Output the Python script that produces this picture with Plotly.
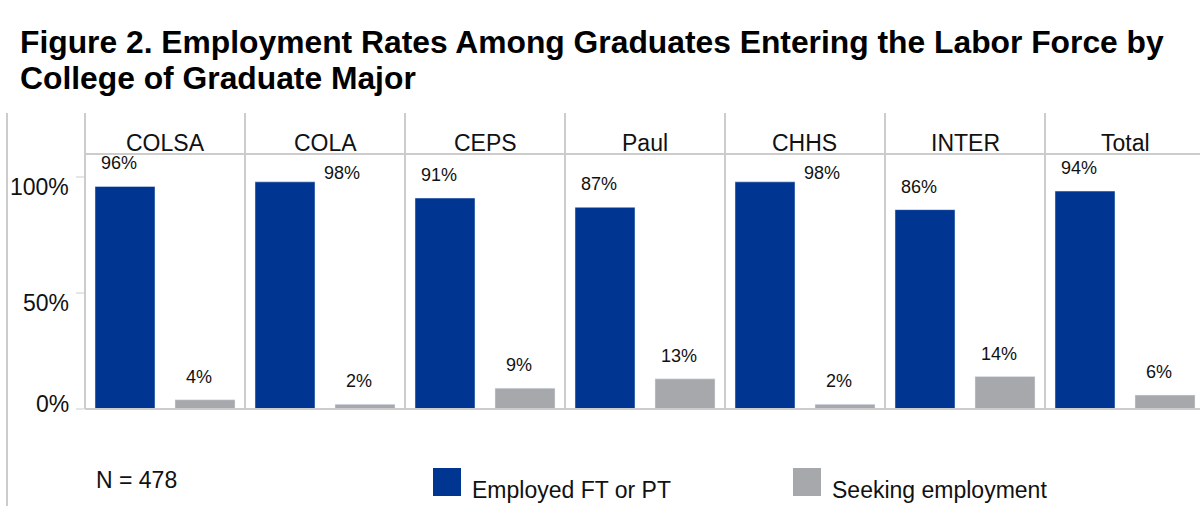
import plotly.graph_objects as go

FONT = "Arial, 'Liberation Sans', sans-serif"

title_lines = [
    "Figure 2. Employment Rates Among Graduates Entering the Labor Force by",
    "College of Graduate Major",
]
colleges = ["COLSA", "COLA", "CEPS", "Paul", "CHHS", "INTER", "Total"]
employed = [96, 98, 91, 87, 98, 86, 94]
seeking = [4, 2, 9, 13, 2, 14, 6]
series_names = ["Employed FT or PT", "Seeking employment"]
series_colors = ["#003591", "#A6A8AB"]
y_ticks = [0, 50, 100]
y_tick_text = ["0%", "50%", "100%"]
n_note = "N = 478"

W, H = 1200, 506
LINE = "#cccccc"
TEXT = "#111111"


def px_x(p):
    return p / W


def px_y(p):
    return 1 - p / H


panel_left, panel_w = 85, 160
plot_top, plot_bottom = 154, 409

fig = go.Figure()
annotations = []
shapes = []

for i, college in enumerate(colleges):
    xa = "x" if i == 0 else f"x{i + 1}"
    ya = "y" if i == 0 else f"y{i + 1}"
    left = panel_left + panel_w * i
    right = min(left + panel_w, W)
    values = [employed[i], seeking[i]]
    for name, color, val in zip(series_names, series_colors, values):
        fig.add_trace(
            go.Bar(
                x=[name], y=[val], marker_color=color, name=name,
                showlegend=False, xaxis=xa, yaxis=ya, width=0.75,
                hoverinfo="skip",
            )
        )
        # value label: 98% sits to the right of the bar, others above it
        if val >= 98:
            xs, ys = 57, 9
        else:
            xs, ys = -6, 23
        annotations.append(dict(
            x=name, y=val, xref=xa, yref=ya, text=f"{val}%", showarrow=False,
            xanchor="center", yanchor="middle", xshift=xs, yshift=ys,
            font=dict(family=FONT, size=18, color=TEXT),
        ))

    span = 2 * (right - left) / panel_w
    key = "xaxis" if i == 0 else f"xaxis{i + 1}"
    ykey = "yaxis" if i == 0 else f"yaxis{i + 1}"
    fig.layout[key] = dict(
        domain=[px_x(left), px_x(right)], range=[-0.5, -0.5 + span],
        showticklabels=False, showgrid=False, zeroline=False,
        categoryorder="array", categoryarray=series_names, anchor=ya,
        fixedrange=True,
    )
    fig.layout[ykey] = dict(
        domain=[px_y(plot_bottom), px_y(plot_top)], range=[0, 110],
        showgrid=False, zeroline=False, anchor=xa, fixedrange=True,
        showticklabels=False,
        tickvals=y_ticks if i == 0 else [],
        ticks="outside" if i == 0 else "",
        ticklen=8, tickwidth=2, tickcolor="#e6e6e6",
    )
    # panel header
    annotations.append(dict(
        x=px_x(left + panel_w / 2), y=px_y(143), xref="paper", yref="paper",
        text=college, showarrow=False, xanchor="center", yanchor="middle",
        font=dict(family=FONT, size=23, color=TEXT),
    ))
    # divider
    shapes.append(dict(
        type="line", xref="paper", yref="paper",
        x0=px_x(left), x1=px_x(left), y0=px_y(113), y1=px_y(plot_bottom),
        line=dict(color=LINE, width=2),
    ))

# y tick labels (sit a little below their ticks, 0% a little above)
for val, txt in zip(y_ticks, y_tick_text):
    annotations.append(dict(
        x=px_x(71), y=val, xref="paper", yref="y", text=txt, showarrow=False,
        xanchor="right", yanchor="middle", yshift=5 if val == 0 else -10,
        font=dict(family=FONT, size=23, color=TEXT),
    ))

# header rule and baseline
for yy in (plot_top, plot_bottom):
    shapes.append(dict(
        type="line", xref="paper", yref="paper",
        x0=px_x(panel_left), x1=1, y0=px_y(yy), y1=px_y(yy),
        line=dict(color=LINE, width=2),
    ))
# outer left frame
shapes.append(dict(
    type="line", xref="paper", yref="paper",
    x0=px_x(7), x1=px_x(7), y0=px_y(113), y1=0,
    line=dict(color=LINE, width=2),
))

# legend drawn by hand for the large square swatches
legend_x = [433, 793]
for lx, name, color in zip(legend_x, series_names, series_colors):
    shapes.append(dict(
        type="rect", xref="paper", yref="paper",
        x0=px_x(lx), x1=px_x(lx + 28), y0=px_y(496), y1=px_y(468),
        fillcolor=color, line=dict(width=0),
    ))
    annotations.append(dict(
        x=px_x(lx + 37), y=px_y(490), xref="paper", yref="paper",
        text=name, showarrow=False, xanchor="left", yanchor="middle",
        font=dict(family=FONT, size=23, color=TEXT),
    ))

annotations.append(dict(
    x=px_x(94), y=px_y(480), xref="paper", yref="paper", text=n_note,
    showarrow=False, xanchor="left", yanchor="middle",
    font=dict(family=FONT, size=23, color=TEXT),
))

# title, one annotation per line
for line, cy in zip(title_lines, [42, 78]):
    annotations.append(dict(
        x=px_x(18), y=px_y(cy), xref="paper", yref="paper",
        text=f"<b>{line}</b>", showarrow=False,
        xanchor="left", yanchor="middle", align="left",
        font=dict(family=FONT, size=31.8, color="#000000"),
    ))

fig.update_layout(
    width=W, height=H,
    margin=dict(l=0, r=0, t=0, b=0),
    paper_bgcolor="white", plot_bgcolor="white",
    barmode="group", bargap=0.25,
    annotations=annotations, shapes=shapes,
    showlegend=False,
)

fig.write_html(
    "out.html",
    config={"displayModeBar": False},
    post_script="document.body.style.margin = '0';",
)
